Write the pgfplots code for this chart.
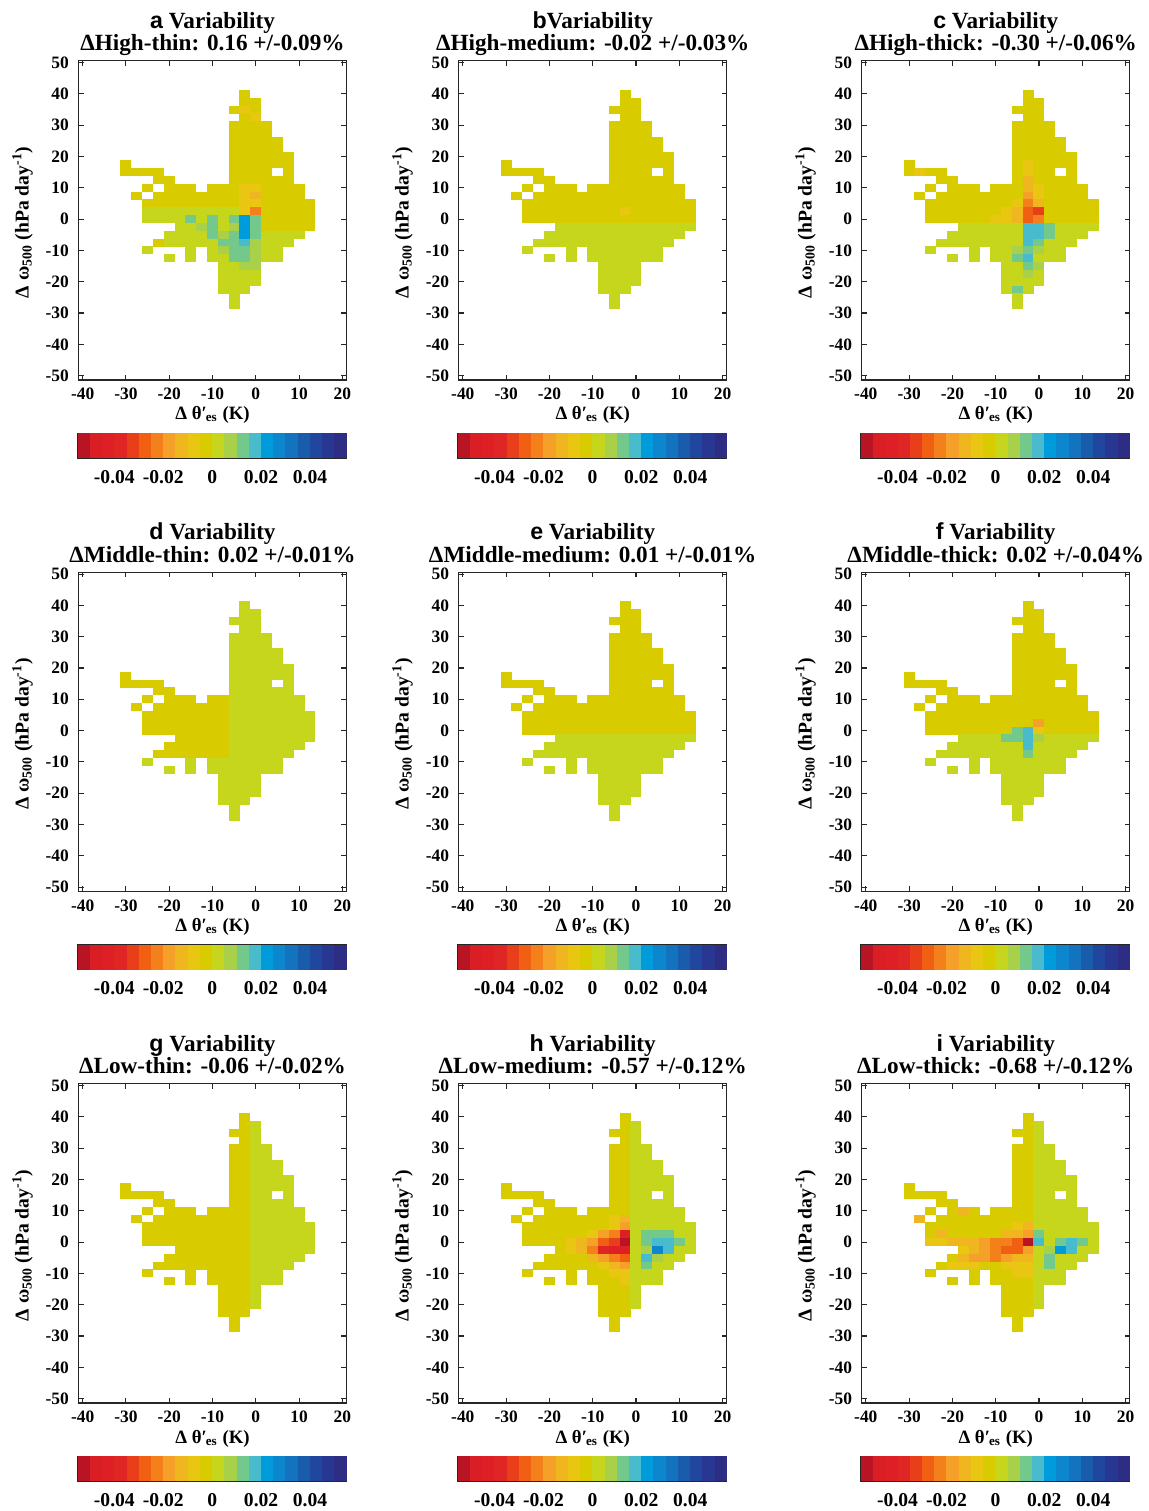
\documentclass[border=0pt]{standalone}
\usepackage{fontspec}
\setmainfont{Liberation Serif}
\setsansfont{Liberation Sans}
\usepackage{pgfplots}
\usepackage{pgfplotstable}
\pgfplotsset{compat=1.18}

\pgfdeclareplotmark{cell}{\pgfpathrectangle{\pgfqpoint{-2.75pt}{-2.0pt}}{\pgfqpoint{5.5pt}{4.0pt}}\pgfusepathqfill}
\pgfdeclareplotmark{band}{\pgfpathrectangle{\pgfqpoint{-3.1pt}{-6.25pt}}{\pgfqpoint{6.2pt}{12.5pt}}\pgfusepathqfill}

% values in units of 1e-3 (band centres of the colour scale)
\pgfplotstableread{
x y pa pb pc pd pe pf pg ph pi
-2.5 40 -2.5 -2.5 -2.5 2.5 -2.5 -2.5 -2.5 -2.5 -2.5
-2.5 37.5 -2.5 -2.5 -2.5 2.5 -2.5 -2.5 -2.5 -2.5 -2.5
0 37.5 -2.5 -2.5 -2.5 2.5 -2.5 -2.5 2.5 2.5 2.5
-5 35 -2.5 -2.5 -2.5 2.5 -2.5 -2.5 -2.5 -2.5 -2.5
-2.5 35 -7.5 -2.5 -2.5 2.5 -2.5 -2.5 -2.5 -2.5 -2.5
0 35 -2.5 -2.5 -2.5 2.5 -2.5 -2.5 2.5 2.5 2.5
-2.5 32.5 -2.5 -2.5 -2.5 2.5 -2.5 -2.5 -2.5 -2.5 -2.5
0 32.5 -7.5 -2.5 -2.5 2.5 -2.5 -2.5 2.5 2.5 2.5
-5 30 -2.5 -2.5 -2.5 2.5 -2.5 -2.5 -2.5 -2.5 -2.5
-2.5 30 -2.5 -2.5 -2.5 2.5 -2.5 -2.5 -2.5 -2.5 -2.5
0 30 -2.5 -2.5 -2.5 2.5 -2.5 -2.5 2.5 2.5 2.5
2.5 30 -2.5 -2.5 -2.5 2.5 -2.5 -2.5 2.5 2.5 2.5
-5 27.5 -2.5 -2.5 -2.5 2.5 -2.5 -2.5 -2.5 -2.5 -2.5
-2.5 27.5 -2.5 -2.5 -2.5 2.5 -2.5 -2.5 -2.5 -2.5 -2.5
0 27.5 -2.5 -2.5 -2.5 2.5 -2.5 -2.5 2.5 2.5 2.5
2.5 27.5 -2.5 -2.5 -2.5 2.5 -2.5 -2.5 2.5 2.5 2.5
-5 25 -2.5 -2.5 -2.5 2.5 -2.5 -2.5 -2.5 -2.5 -2.5
-2.5 25 -2.5 -2.5 -2.5 2.5 -2.5 -2.5 -2.5 -2.5 -2.5
0 25 -2.5 -2.5 -2.5 2.5 -2.5 -2.5 2.5 2.5 2.5
2.5 25 -2.5 -2.5 -2.5 2.5 -2.5 -2.5 2.5 2.5 2.5
5 25 -2.5 -2.5 -2.5 2.5 -2.5 -2.5 2.5 2.5 2.5
-5 22.5 -2.5 -2.5 -2.5 2.5 -2.5 -2.5 -2.5 -2.5 -2.5
-2.5 22.5 -2.5 -2.5 -2.5 2.5 -2.5 -2.5 -2.5 -2.5 -2.5
0 22.5 -2.5 -2.5 -2.5 2.5 -2.5 -2.5 2.5 2.5 2.5
2.5 22.5 -2.5 -2.5 -2.5 2.5 -2.5 -2.5 2.5 2.5 2.5
5 22.5 -2.5 -2.5 -2.5 2.5 -2.5 -2.5 2.5 2.5 2.5
-5 20 -2.5 -2.5 -2.5 2.5 -2.5 -2.5 -2.5 -2.5 -2.5
-2.5 20 -2.5 -2.5 -2.5 2.5 -2.5 -2.5 -2.5 -2.5 -2.5
0 20 -2.5 -2.5 -2.5 2.5 -2.5 -2.5 2.5 2.5 2.5
2.5 20 -2.5 -2.5 -2.5 2.5 -2.5 -2.5 2.5 2.5 2.5
5 20 -2.5 -2.5 -2.5 2.5 -2.5 -2.5 2.5 2.5 2.5
7.5 20 -2.5 -2.5 -2.5 2.5 -2.5 -2.5 2.5 2.5 2.5
-30 17.5 -2.5 -2.5 -2.5 -2.5 -2.5 -2.5 -2.5 -2.5 -2.5
-5 17.5 -2.5 -2.5 -2.5 2.5 -2.5 -2.5 -2.5 -2.5 -2.5
-2.5 17.5 -2.5 -2.5 -7.5 2.5 -2.5 -2.5 -2.5 -2.5 -2.5
0 17.5 -2.5 -2.5 -2.5 2.5 -2.5 -2.5 2.5 2.5 2.5
2.5 17.5 -2.5 -2.5 -2.5 2.5 -2.5 -2.5 2.5 2.5 2.5
5 17.5 -2.5 -2.5 -2.5 2.5 -2.5 -2.5 2.5 2.5 2.5
7.5 17.5 -2.5 -2.5 -2.5 2.5 -2.5 -2.5 2.5 2.5 2.5
-30 15 -2.5 -2.5 -2.5 -2.5 -2.5 -2.5 -2.5 -2.5 -2.5
-27.5 15 -2.5 -2.5 -7.5 -2.5 -2.5 -2.5 -2.5 -2.5 -2.5
-25 15 -2.5 -2.5 -2.5 -2.5 -2.5 -2.5 -2.5 -2.5 -2.5
-22.5 15 -2.5 -2.5 -2.5 -2.5 -2.5 -2.5 -2.5 -2.5 -2.5
-5 15 -2.5 -2.5 -2.5 2.5 -2.5 -2.5 -2.5 -2.5 -2.5
-2.5 15 -2.5 -2.5 -7.5 2.5 -2.5 -2.5 -2.5 -2.5 -2.5
0 15 -2.5 -2.5 -2.5 2.5 -2.5 -2.5 2.5 2.5 2.5
2.5 15 -2.5 -2.5 -2.5 2.5 -2.5 -2.5 2.5 2.5 2.5
7.5 15 -2.5 -2.5 -2.5 2.5 -2.5 -2.5 2.5 2.5 2.5
-22.5 12.5 -2.5 -2.5 -2.5 -2.5 -2.5 -2.5 -2.5 -2.5 -2.5
-20 12.5 -2.5 -2.5 -2.5 -2.5 -2.5 -2.5 -2.5 -2.5 -2.5
-5 12.5 -2.5 -2.5 -2.5 2.5 -2.5 -2.5 -2.5 -2.5 -2.5
-2.5 12.5 -2.5 -2.5 -12.5 2.5 -2.5 -2.5 -2.5 -2.5 -2.5
0 12.5 -2.5 -2.5 -2.5 2.5 -2.5 -2.5 2.5 2.5 2.5
2.5 12.5 -2.5 -2.5 -2.5 2.5 -2.5 -2.5 2.5 2.5 2.5
5 12.5 -2.5 -2.5 -2.5 2.5 -2.5 -2.5 2.5 2.5 2.5
7.5 12.5 -2.5 -2.5 -2.5 2.5 -2.5 -2.5 2.5 2.5 2.5
-25 10 -2.5 -2.5 -2.5 -2.5 -2.5 -2.5 -2.5 -2.5 -2.5
-20 10 -2.5 -2.5 -2.5 -2.5 -2.5 -2.5 -2.5 -2.5 -2.5
-17.5 10 -2.5 -2.5 -2.5 -2.5 -2.5 -2.5 -2.5 -2.5 -12.5
-15 10 -2.5 -2.5 -2.5 -2.5 -2.5 -2.5 -2.5 -2.5 -2.5
-10 10 -2.5 -2.5 -2.5 -2.5 -2.5 -2.5 -2.5 -2.5 -2.5
-7.5 10 -2.5 -2.5 -2.5 -2.5 -2.5 -2.5 -2.5 -2.5 -2.5
-5 10 -2.5 -2.5 -2.5 2.5 -2.5 -2.5 -2.5 -2.5 -2.5
-2.5 10 -7.5 -2.5 -12.5 2.5 -2.5 -2.5 -2.5 -2.5 -2.5
0 10 -7.5 -2.5 -7.5 2.5 -2.5 -2.5 2.5 2.5 2.5
2.5 10 -2.5 -2.5 -2.5 2.5 -2.5 -2.5 2.5 2.5 2.5
5 10 -2.5 -2.5 -2.5 2.5 -2.5 -2.5 2.5 2.5 2.5
7.5 10 -2.5 -2.5 -2.5 2.5 -2.5 -2.5 2.5 2.5 2.5
10 10 -2.5 -2.5 -2.5 2.5 -2.5 -2.5 2.5 2.5 2.5
-27.5 7.5 -2.5 -2.5 -2.5 -2.5 -2.5 -2.5 -2.5 -2.5 -12.5
-22.5 7.5 -2.5 -2.5 -2.5 -2.5 -2.5 -2.5 -2.5 -2.5 -2.5
-20 7.5 -2.5 -2.5 -2.5 -2.5 -2.5 -2.5 -2.5 -2.5 -2.5
-17.5 7.5 -2.5 -2.5 -2.5 -2.5 -2.5 -2.5 -2.5 -2.5 -2.5
-15 7.5 -2.5 -2.5 -2.5 -2.5 -2.5 -2.5 -2.5 -2.5 -2.5
-12.5 7.5 -2.5 -2.5 -2.5 -2.5 -2.5 -2.5 -2.5 -2.5 -2.5
-10 7.5 -2.5 -2.5 -2.5 -2.5 -2.5 -2.5 -2.5 -2.5 -2.5
-7.5 7.5 -2.5 -2.5 -2.5 -2.5 -2.5 -2.5 -2.5 -2.5 -2.5
-5 7.5 -2.5 -2.5 -2.5 2.5 -2.5 -2.5 -2.5 -7.5 -2.5
-2.5 7.5 -7.5 -2.5 -17.5 2.5 -2.5 -2.5 -2.5 -12.5 -2.5
0 7.5 -12.5 -2.5 -7.5 2.5 -2.5 -2.5 2.5 2.5 2.5
2.5 7.5 -2.5 -2.5 -2.5 2.5 -2.5 -2.5 2.5 2.5 2.5
5 7.5 -2.5 -2.5 -2.5 2.5 -2.5 -2.5 2.5 2.5 2.5
7.5 7.5 -2.5 -2.5 -2.5 2.5 -2.5 -2.5 2.5 2.5 2.5
10 7.5 -2.5 -2.5 -2.5 2.5 -2.5 -2.5 2.5 2.5 2.5
-25 5 -2.5 -2.5 -2.5 -2.5 -2.5 -2.5 -2.5 -2.5 -2.5
-22.5 5 -2.5 -2.5 -2.5 -2.5 -2.5 -2.5 -2.5 -2.5 -2.5
-20 5 -2.5 -2.5 -2.5 -2.5 -2.5 -2.5 -2.5 -2.5 -2.5
-17.5 5 -2.5 -2.5 -2.5 -2.5 -2.5 -2.5 -2.5 -2.5 -2.5
-15 5 -2.5 -2.5 -2.5 -2.5 -2.5 -2.5 -2.5 -2.5 -2.5
-12.5 5 -2.5 -2.5 -2.5 -2.5 -2.5 -2.5 -2.5 -2.5 -2.5
-10 5 -2.5 -2.5 -2.5 -2.5 -2.5 -2.5 -2.5 -2.5 -2.5
-7.5 5 -2.5 -2.5 -2.5 -2.5 -2.5 -2.5 -2.5 -2.5 -2.5
-5 5 -2.5 -2.5 -7.5 2.5 -2.5 -2.5 -2.5 -7.5 -7.5
-2.5 5 -7.5 -2.5 -22.5 2.5 -2.5 -2.5 -2.5 -17.5 -12.5
0 5 -7.5 -2.5 -12.5 2.5 -2.5 -2.5 2.5 2.5 2.5
2.5 5 -2.5 -2.5 -2.5 2.5 -2.5 -2.5 2.5 2.5 2.5
5 5 -2.5 -2.5 -2.5 2.5 -2.5 -2.5 2.5 2.5 2.5
7.5 5 -2.5 -2.5 -2.5 2.5 -2.5 -2.5 2.5 2.5 2.5
10 5 -2.5 -2.5 -2.5 2.5 -2.5 -2.5 2.5 2.5 2.5
12.5 5 -2.5 -2.5 -2.5 2.5 -2.5 -2.5 2.5 2.5 2.5
-25 2.5 2.5 -2.5 -2.5 -2.5 -2.5 -2.5 -2.5 -2.5 -2.5
-22.5 2.5 2.5 -2.5 -2.5 -2.5 -2.5 -2.5 -2.5 -2.5 -12.5
-20 2.5 2.5 -2.5 -2.5 -2.5 -2.5 -2.5 -2.5 -2.5 -2.5
-17.5 2.5 2.5 -2.5 -2.5 -2.5 -2.5 -2.5 -2.5 -2.5 -2.5
-15 2.5 2.5 -2.5 -2.5 -2.5 -2.5 -2.5 -2.5 -2.5 -2.5
-12.5 2.5 2.5 -2.5 -2.5 -2.5 -2.5 -2.5 -2.5 -2.5 -2.5
-10 2.5 2.5 -2.5 -2.5 -2.5 -2.5 -2.5 -2.5 -7.5 -2.5
-7.5 2.5 2.5 -2.5 -7.5 -2.5 -2.5 -2.5 -2.5 -17.5 -12.5
-5 2.5 2.5 -2.5 -12.5 2.5 -2.5 -2.5 -2.5 -22.5 -12.5
-2.5 2.5 -7.5 -7.5 -27.5 2.5 -2.5 -2.5 -2.5 -42.5 -17.5
0 2.5 -22.5 -2.5 -32.5 2.5 -2.5 -17.5 2.5 2.5 12.5
2.5 2.5 -2.5 -2.5 -2.5 2.5 -2.5 -2.5 2.5 12.5 2.5
5 2.5 -2.5 -2.5 -2.5 2.5 -2.5 -2.5 2.5 12.5 2.5
7.5 2.5 -2.5 -2.5 -2.5 2.5 -2.5 -2.5 2.5 12.5 2.5
10 2.5 -2.5 -2.5 -2.5 2.5 -2.5 -2.5 2.5 2.5 2.5
12.5 2.5 -2.5 -2.5 -2.5 2.5 -2.5 -2.5 2.5 2.5 2.5
-25 0 2.5 -2.5 -2.5 -2.5 -2.5 -2.5 -2.5 -2.5 -7.5
-22.5 0 2.5 -2.5 -2.5 -2.5 -2.5 -2.5 -2.5 -2.5 -7.5
-20 0 2.5 -2.5 -2.5 -2.5 -2.5 -2.5 -2.5 -2.5 -12.5
-17.5 0 2.5 -2.5 -2.5 -2.5 -2.5 -2.5 -2.5 -2.5 -12.5
-15 0 12.5 -2.5 -2.5 -2.5 -2.5 -2.5 -2.5 -7.5 -12.5
-12.5 0 2.5 -2.5 -2.5 -2.5 -2.5 -2.5 -2.5 -12.5 -17.5
-10 0 12.5 -2.5 -7.5 -2.5 -2.5 -2.5 -2.5 -17.5 -22.5
-7.5 0 2.5 -2.5 -7.5 -2.5 -2.5 -2.5 -2.5 -27.5 -22.5
-5 0 12.5 -2.5 -12.5 2.5 -2.5 12.5 -2.5 -32.5 -27.5
-2.5 0 22.5 -2.5 -27.5 2.5 -2.5 17.5 -2.5 -52.5 -52.5
0 0 12.5 -2.5 -22.5 2.5 -2.5 -7.5 2.5 2.5 17.5
2.5 0 -2.5 -2.5 -2.5 2.5 -2.5 -2.5 2.5 12.5 2.5
5 0 -2.5 -2.5 -2.5 2.5 -2.5 -2.5 2.5 17.5 12.5
7.5 0 -2.5 -2.5 -2.5 2.5 -2.5 -2.5 2.5 17.5 17.5
10 0 -2.5 -2.5 -2.5 2.5 -2.5 -2.5 2.5 12.5 12.5
12.5 0 -2.5 -2.5 -2.5 2.5 -2.5 -2.5 2.5 2.5 2.5
-17.5 -2.5 2.5 2.5 2.5 -2.5 2.5 2.5 -2.5 -2.5 -7.5
-15 -2.5 2.5 2.5 2.5 -2.5 2.5 2.5 -2.5 -7.5 -12.5
-12.5 -2.5 7.5 2.5 2.5 -2.5 2.5 2.5 -2.5 -12.5 -17.5
-10 -2.5 12.5 2.5 2.5 -2.5 2.5 2.5 -2.5 -22.5 -22.5
-7.5 -2.5 2.5 2.5 2.5 -2.5 2.5 12.5 -2.5 -37.5 -27.5
-5 -2.5 7.5 2.5 2.5 2.5 2.5 12.5 -2.5 -42.5 -27.5
-2.5 -2.5 22.5 2.5 17.5 2.5 2.5 17.5 -2.5 -42.5 -17.5
0 -2.5 12.5 2.5 17.5 2.5 2.5 7.5 2.5 2.5 2.5
2.5 -2.5 -2.5 2.5 12.5 2.5 2.5 2.5 2.5 7.5 7.5
5 -2.5 -2.5 2.5 2.5 2.5 2.5 2.5 2.5 27.5 22.5
7.5 -2.5 -2.5 2.5 2.5 2.5 2.5 2.5 2.5 17.5 17.5
10 -2.5 -2.5 2.5 2.5 2.5 2.5 2.5 2.5 2.5 2.5
12.5 -2.5 -2.5 2.5 2.5 2.5 2.5 2.5 2.5 2.5 2.5
-20 -5 2.5 2.5 2.5 -2.5 2.5 2.5 -2.5 -2.5 -2.5
-17.5 -5 2.5 2.5 2.5 -2.5 2.5 2.5 -2.5 -2.5 -12.5
-15 -5 2.5 2.5 2.5 -2.5 2.5 2.5 -2.5 -2.5 -17.5
-12.5 -5 2.5 2.5 2.5 -2.5 2.5 2.5 -2.5 -2.5 -17.5
-10 -5 12.5 2.5 2.5 -2.5 2.5 2.5 -2.5 -12.5 -22.5
-7.5 -5 7.5 2.5 2.5 -2.5 2.5 2.5 -2.5 -17.5 -17.5
-5 -5 12.5 2.5 2.5 2.5 2.5 2.5 -2.5 -22.5 -12.5
-2.5 -5 22.5 2.5 17.5 2.5 2.5 17.5 -2.5 -27.5 -12.5
0 -5 12.5 2.5 17.5 2.5 2.5 2.5 2.5 2.5 2.5
2.5 -5 2.5 2.5 12.5 2.5 2.5 2.5 2.5 17.5 12.5
5 -5 2.5 2.5 2.5 2.5 2.5 2.5 2.5 7.5 2.5
7.5 -5 2.5 2.5 2.5 2.5 2.5 2.5 2.5 2.5 2.5
10 -5 2.5 2.5 2.5 2.5 2.5 2.5 2.5 2.5 2.5
-22.5 -7.5 -2.5 2.5 2.5 -2.5 2.5 2.5 -2.5 -2.5 -2.5
-20 -7.5 2.5 2.5 2.5 -2.5 2.5 2.5 -2.5 -2.5 -7.5
-17.5 -7.5 2.5 2.5 2.5 -2.5 2.5 2.5 -2.5 -2.5 -7.5
-15 -7.5 2.5 2.5 2.5 -2.5 2.5 2.5 -2.5 -2.5 -7.5
-12.5 -7.5 2.5 2.5 2.5 -2.5 2.5 2.5 -2.5 -2.5 -2.5
-10 -7.5 2.5 2.5 2.5 -2.5 2.5 2.5 -2.5 -2.5 -2.5
-7.5 -7.5 12.5 2.5 2.5 -2.5 2.5 2.5 -2.5 -7.5 -7.5
-5 -7.5 12.5 2.5 2.5 2.5 2.5 2.5 -2.5 -12.5 -7.5
-2.5 -7.5 17.5 2.5 17.5 2.5 2.5 12.5 -2.5 -17.5 -7.5
0 -7.5 7.5 2.5 12.5 2.5 2.5 2.5 2.5 2.5 2.5
2.5 -7.5 2.5 2.5 2.5 2.5 2.5 2.5 2.5 12.5 12.5
5 -7.5 2.5 2.5 2.5 2.5 2.5 2.5 2.5 2.5 2.5
7.5 -7.5 2.5 2.5 2.5 2.5 2.5 2.5 2.5 2.5 2.5
-25 -10 2.5 2.5 2.5 2.5 2.5 2.5 -2.5 -2.5 -2.5
-15 -10 2.5 2.5 2.5 2.5 2.5 2.5 -2.5 -2.5 -2.5
-10 -10 2.5 2.5 2.5 2.5 2.5 2.5 -2.5 -2.5 -2.5
-7.5 -10 7.5 2.5 2.5 2.5 2.5 2.5 -2.5 -2.5 -2.5
-5 -10 12.5 2.5 7.5 2.5 2.5 2.5 -2.5 -7.5 -7.5
-2.5 -10 12.5 2.5 12.5 2.5 2.5 2.5 -2.5 -7.5 -7.5
0 -10 7.5 2.5 7.5 2.5 2.5 2.5 2.5 2.5 2.5
2.5 -10 2.5 2.5 2.5 2.5 2.5 2.5 2.5 2.5 2.5
5 -10 2.5 2.5 2.5 2.5 2.5 2.5 2.5 2.5 2.5
-20 -12.5 2.5 2.5 2.5 2.5 2.5 2.5 -2.5 -2.5 -2.5
-15 -12.5 2.5 2.5 2.5 2.5 2.5 2.5 -2.5 -2.5 -2.5
-10 -12.5 2.5 2.5 2.5 2.5 2.5 2.5 -2.5 -2.5 -2.5
-7.5 -12.5 2.5 2.5 2.5 2.5 2.5 2.5 -2.5 -2.5 -2.5
-5 -12.5 12.5 2.5 12.5 2.5 2.5 2.5 -2.5 -2.5 -2.5
-2.5 -12.5 12.5 2.5 17.5 2.5 2.5 2.5 -2.5 -7.5 -2.5
0 -12.5 7.5 2.5 2.5 2.5 2.5 2.5 2.5 2.5 2.5
2.5 -12.5 2.5 2.5 2.5 2.5 2.5 2.5 2.5 2.5 2.5
5 -12.5 2.5 2.5 2.5 2.5 2.5 2.5 2.5 2.5 2.5
-7.5 -15 2.5 2.5 2.5 2.5 2.5 2.5 -2.5 -2.5 -2.5
-5 -15 2.5 2.5 2.5 2.5 2.5 2.5 -2.5 -2.5 -2.5
-2.5 -15 7.5 2.5 12.5 2.5 2.5 2.5 -2.5 -2.5 -2.5
0 -15 7.5 2.5 7.5 2.5 2.5 2.5 2.5 2.5 2.5
-7.5 -17.5 2.5 2.5 2.5 2.5 2.5 2.5 -2.5 -2.5 -2.5
-5 -17.5 2.5 2.5 2.5 2.5 2.5 2.5 -2.5 -2.5 -2.5
-2.5 -17.5 2.5 2.5 7.5 2.5 2.5 2.5 -2.5 -2.5 -2.5
0 -17.5 2.5 2.5 2.5 2.5 2.5 2.5 2.5 2.5 2.5
-7.5 -20 2.5 2.5 2.5 2.5 2.5 2.5 -2.5 -2.5 -2.5
-5 -20 2.5 2.5 2.5 2.5 2.5 2.5 -2.5 -2.5 -2.5
-2.5 -20 2.5 2.5 2.5 2.5 2.5 2.5 -2.5 -2.5 -2.5
0 -20 2.5 2.5 2.5 2.5 2.5 2.5 2.5 2.5 2.5
-7.5 -22.5 2.5 2.5 2.5 2.5 2.5 2.5 -2.5 -2.5 -2.5
-5 -22.5 2.5 2.5 12.5 2.5 2.5 2.5 -2.5 -2.5 -2.5
-2.5 -22.5 2.5 2.5 2.5 2.5 2.5 2.5 -2.5 -2.5 -2.5
-5 -25 2.5 2.5 2.5 2.5 2.5 2.5 -2.5 -2.5 -2.5
-5 -27.5 2.5 2.5 2.5 2.5 2.5 2.5 -2.5 -2.5 -2.5
}\heatdata

\pgfplotstableread{
v y
-52.5 0.5
-47.5 0.5
-42.5 0.5
-37.5 0.5
-32.5 0.5
-27.5 0.5
-22.5 0.5
-17.5 0.5
-12.5 0.5
-7.5 0.5
-2.5 0.5
2.5 0.5
7.5 0.5
12.5 0.5
17.5 0.5
22.5 0.5
27.5 0.5
32.5 0.5
37.5 0.5
42.5 0.5
47.5 0.5
52.5 0.5
}\cbdata

\pgfplotsset{
 colormap={vb}{rgb255(0cm)=(185,20,35) rgb255(1cm)=(218,30,38) rgb255(2cm)=(222,32,38) rgb255(3cm)=(224,38,36)
   rgb255(4cm)=(232,62,26) rgb255(5cm)=(240,95,18) rgb255(6cm)=(244,128,28) rgb255(7cm)=(245,160,40)
   rgb255(8cm)=(240,182,32) rgb255(9cm)=(232,198,18) rgb255(10cm)=(216,203,0) rgb255(11cm)=(198,214,28)
   rgb255(12cm)=(168,208,72) rgb255(13cm)=(115,200,140) rgb255(14cm)=(72,188,205) rgb255(15cm)=(0,155,218)
   rgb255(16cm)=(12,135,205) rgb255(17cm)=(20,115,190) rgb255(18cm)=(25,92,172) rgb255(19cm)=(33,70,158)
   rgb255(20cm)=(40,55,145) rgb255(21cm)=(45,45,132)},
 heat/.style={scale only axis, width=134.2pt, height=159.65pt, anchor=south west,
   xmin=-41, xmax=21, ymin=-51.4, ymax=50.6,
   xtick={-40,-30,...,20}, ytick={-50,-40,...,50},
   tick align=inside, major tick length=2.6pt,
   axis line style={line width=0.55pt, black!85},
   tick style={line width=0.55pt, black!85},
   tick label style={font=\bfseries\fontsize{8.7}{9}\selectfont},
   xticklabel style={inner sep=0.5pt},
   /pgf/number format/assume math mode=true,
   xticklabel shift=3.4pt, yticklabel shift=1.2pt,
   colormap name=vb, point meta min=-52.5, point meta max=52.5,
   clip=false},
 cbar/.style={scale only axis, width=134.5pt, height=12.5pt, anchor=south west,
   xmin=-55, xmax=55, ymin=0, ymax=1, ytick=\empty,
   xtick={-40,-20,0,20,40}, xticklabels={-0.04,-0.02,0,0.02,0.04},
   major tick length=0pt, axis on top,
   axis line style={line width=0.55pt, black!85},
   tick label style={font=\bfseries\fontsize{9.8}{10}\selectfont},
   xticklabel shift=2.4pt,
   colormap name=vb, point meta min=-52.5, point meta max=52.5},
}

\newcommand\panel[5]{%
\begin{axis}[heat, at={(#1,#2)}]
\addplot[scatter, only marks, mark=cell, point meta=explicit,
  scatter/use mapped color={draw=none, fill=mapped color}] table[x=x, y=y, meta=#3] {\heatdata};
\node[anchor=base, inner sep=0pt, font=\bfseries\fontsize{11.6}{12}\selectfont] at ([yshift=16.2pt]rel axis cs:0.5,1) {#4};
\node[anchor=base, inner sep=0pt, font=\bfseries\fontsize{11.6}{12}\selectfont] at ([yshift=5pt]rel axis cs:0.5,1) {#5};
\node[anchor=base, inner sep=0pt, font=\bfseries\fontsize{9.4}{10}\selectfont] at ([yshift=-20pt]rel axis cs:0.5,0) {Δ θ′\kern-0.5pt\textsubscript{es} (K)};
\node[rotate=90, anchor=center, inner sep=0pt, font=\bfseries\fontsize{9.8}{10}\selectfont] at ([xshift=-27.9pt, yshift=-1pt]rel axis cs:0,0.5) {Δ ω\textsubscript{500} (hPa day\textsuperscript{-1})};
\end{axis}
\begin{axis}[cbar, at={(#1-0.3pt,#2-39.15pt)}]
\addplot[scatter, only marks, mark=band, point meta=explicit,
  scatter/use mapped color={draw=none, fill=mapped color}] table[x=v, y=y, meta=v] {\cbdata};
\end{axis}}

\begin{document}
\begin{tikzpicture}
\useasboundingbox (0,0) rectangle (574.5pt,755.5pt);
\panel{39.15pt}{565.5pt}{pa}{{\sffamily a} Variability}{ΔHigh-thin: 0.16 +/-0.09\%}
\panel{229.25pt}{565.5pt}{pb}{{\sffamily b}Variability}{ΔHigh-medium: -0.02 +/-0.03\%}
\panel{430.75pt}{565.5pt}{pc}{{\sffamily c} Variability}{ΔHigh-thick: -0.30 +/-0.06\%}
\panel{39.15pt}{309.75pt}{pd}{{\sffamily d} Variability}{ΔMiddle-thin: 0.02 +/-0.01\%}
\panel{229.25pt}{309.75pt}{pe}{{\sffamily e} Variability}{ΔMiddle-medium: 0.01 +/-0.01\%}
\panel{430.75pt}{309.75pt}{pf}{{\sffamily f} Variability}{ΔMiddle-thick: 0.02 +/-0.04\%}
\panel{39.15pt}{54pt}{pg}{{\sffamily g} Variability}{ΔLow-thin: -0.06 +/-0.02\%}
\panel{229.25pt}{54pt}{ph}{{\sffamily h} Variability}{ΔLow-medium: -0.57 +/-0.12\%}
\panel{430.75pt}{54pt}{pi}{{\sffamily i} Variability}{ΔLow-thick: -0.68 +/-0.12\%}
\end{tikzpicture}
\end{document}
